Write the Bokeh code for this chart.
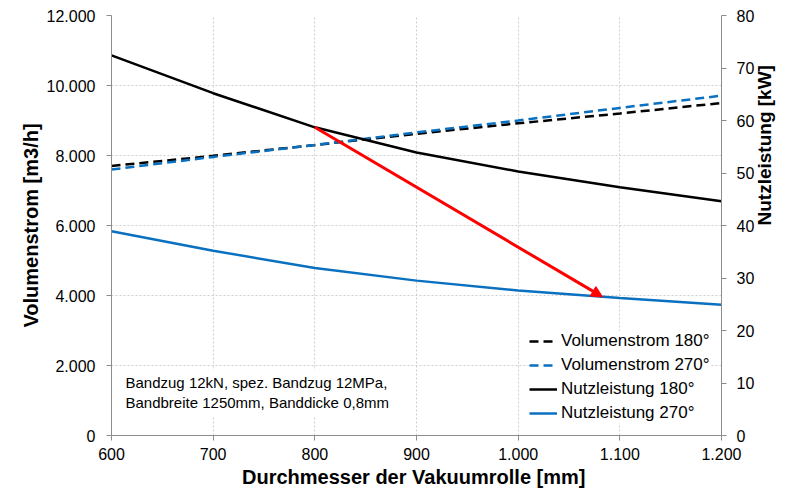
import math
from bokeh.plotting import figure
from bokeh.models import (Range1d, LinearAxis, FixedTicker, Legend, LegendItem,
                          Label, Arrow, NormalHead)
from bokeh.embed import file_html
from bokeh.resources import INLINE

# ---- data ----
diameter = [600, 700, 800, 900, 1000, 1100, 1200]
vol_180 = [7700, 7990, 8300, 8620, 8920, 9200, 9500]
vol_270 = [7600, 7960, 8300, 8660, 9000, 9360, 9710]
power_180 = [72.4, 65.2, 58.7, 53.9, 50.3, 47.3, 44.6]
power_270 = [38.9, 35.2, 31.9, 29.5, 27.6, 26.2, 24.9]

arrow_start = (800, 58.7)   # on Nutzleistung axis
arrow_end = (1083, 26.4)

x_ticks = [600, 700, 800, 900, 1000, 1100, 1200]
x_tick_labels = ["600", "700", "800", "900", "1.000", "1.100", "1.200"]
y_ticks = [0, 2000, 4000, 6000, 8000, 10000, 12000]
y_tick_labels = ["0", "2.000", "4.000", "6.000", "8.000", "10.000", "12.000"]
y2_ticks = [0, 10, 20, 30, 40, 50, 60, 70, 80]
y2_tick_labels = ["0", "10", "20", "30", "40", "50", "60", "70", "80"]

FONT = "Liberation Sans"
BLACK = "#000000"
BLUE = "#0a70c0"
AXIS = "#8c8c8c"
GRID = "#cfcfcf"

p = figure(width=788, height=492, output_backend="svg", toolbar_location=None,
           x_range=Range1d(600, 1200), y_range=Range1d(0, 12000),
           min_border_left=111, min_border_right=65, min_border_top=15,
           min_border_bottom=57)
p.outline_line_color = None
p.background_fill_color = "white"
p.border_fill_color = "white"
p.extra_y_ranges = {"right": Range1d(0, 80)}

xax = p.below[0]
yax = p.left[0]
xax.ticker = FixedTicker(ticks=x_ticks)
xax.major_label_overrides = dict(zip(x_ticks, x_tick_labels))
yax.ticker = FixedTicker(ticks=y_ticks)
yax.major_label_overrides = dict(zip(y_ticks, y_tick_labels))

right = LinearAxis(y_range_name="right", ticker=FixedTicker(ticks=y2_ticks))
right.major_label_overrides = dict(zip(y2_ticks, y2_tick_labels))
p.add_layout(right, "right")

for ax in [xax, yax, right]:
    ax.axis_line_color = AXIS
    ax.major_tick_line_color = AXIS
    ax.minor_tick_line_color = None
    ax.major_tick_in = 0
    ax.major_tick_out = 5
    ax.major_label_text_font = FONT
    ax.major_label_text_font_size = "16px"
    ax.major_label_text_color = "#000000"
    ax.axis_label_text_font = FONT
    ax.axis_label_text_font_style = "bold"
    ax.axis_label_text_font_size = "20px"
    ax.axis_label_text_color = "#000000"

xax.major_label_standoff = 7
xax.axis_label = "Durchmesser der Vakuumrolle  [mm]"
xax.axis_label_standoff = 3
yax.major_label_standoff = 11
yax.axis_label = "Volumenstrom [m3/h]"
yax.axis_label_standoff = 2
right.major_label_standoff = 10
right.axis_label = "Nutzleistung [kW]"
right.axis_label_text_font_size = "19px"
right.axis_label_standoff = 7
if "axis_label_orientation" in right.properties():
    right.axis_label_orientation = math.pi / 2

# grid
p.xgrid.ticker = FixedTicker(ticks=x_ticks)
p.ygrid.ticker = FixedTicker(ticks=y_ticks)
for g in [p.xgrid[0], p.ygrid[0]]:
    g.grid_line_color = GRID
    g.grid_line_dash = "2 2"
    g.grid_line_width = 1

LW = 2.5
r1 = p.line(diameter, vol_180, line_color=BLACK, line_width=LW, line_dash="9 5")
r2 = p.line(diameter, vol_270, line_color=BLUE, line_width=LW, line_dash="9 5")
r3 = p.line(diameter, power_180, line_color=BLACK, line_width=LW, y_range_name="right")
r4 = p.line(diameter, power_270, line_color=BLUE, line_width=LW, y_range_name="right")

p.add_layout(Arrow(end=NormalHead(size=11, fill_color="#ff0000", line_color="#ff0000"),
                   x_start=arrow_start[0], y_start=arrow_start[1],
                   x_end=arrow_end[0], y_end=arrow_end[1],
                   line_color="#ff0000", line_width=3, y_range_name="right"))

legend = Legend(items=[
    LegendItem(label="Volumenstrom 180°", renderers=[r1]),
    LegendItem(label="Volumenstrom 270°", renderers=[r2]),
    LegendItem(label="Nutzleistung 180°", renderers=[r3]),
    LegendItem(label="Nutzleistung 270°", renderers=[r4]),
], location=(418, 12))
legend.label_text_font = FONT
legend.label_text_font_size = "17px"
legend.label_text_color = "#000000"
legend.glyph_width = 28
legend.glyph_height = 20
legend.label_height = 20
legend.label_standoff = 4
legend.spacing = 4
legend.padding = 7
legend.margin = 0
legend.border_line_color = None
legend.background_fill_color = "white"
legend.background_fill_alpha = 1.0
p.add_layout(legend)

note = Label(x=10, y=20, x_units="screen", y_units="screen",
             text="Bandzug 12kN, spez. Bandzug 12MPa,\nBandbreite 1250mm, Banddicke 0,8mm",
             text_font=FONT, text_font_size="15px", text_color="#000000",
             text_line_height=1.2,
             background_fill_color="white", background_fill_alpha=1.0,
             padding=4)
p.add_layout(note)

open("out.html", "w").write(file_html(p, INLINE))
